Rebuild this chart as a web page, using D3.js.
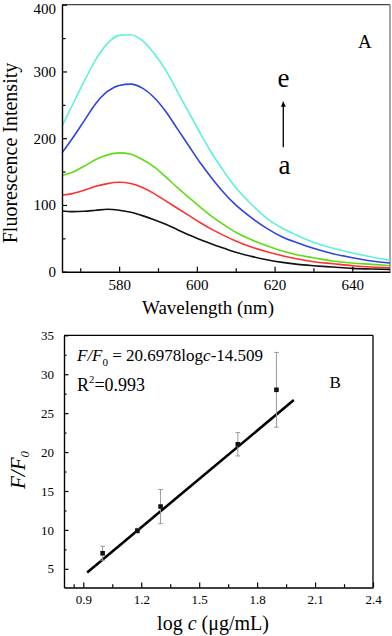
<!DOCTYPE html>
<html>
<head>
<meta charset="utf-8">
<title>Fluorescence</title>
<script src="https://cdn.jsdelivr.net/npm/d3@7"></script>
<style>
body{margin:0;background:#fff;}
svg{display:block;}
svg text{font-family:"Liberation Serif","Times New Roman",Times,"DejaVu Serif",serif;}
</style>
</head>
<body>
<script>
// ---- panel A : emission spectra a..e ----
var wavelength = [565.3, 568, 571, 574, 577, 580, 583, 586, 589, 592, 595, 598, 601, 604, 607, 610, 614, 618, 622, 626, 630, 635, 640, 645, 649.7];
var specA = [91, 90, 90.5, 92, 93.5, 92, 89, 84, 78, 71, 63, 55, 48, 41, 35, 29, 23, 18, 14, 11, 9, 7, 5, 4, 3.5];
var specB = [115, 117, 122, 128, 132, 134, 132, 126, 117, 106, 95, 84, 73, 63, 54, 46, 37, 30, 24, 19, 15, 12, 9, 7, 6];
var specC = [144, 149, 158, 168, 175, 178, 176, 168, 157, 142, 126, 111, 96, 82, 70, 59, 48, 39, 31, 25, 21, 16, 13, 11, 9];
var specD = [178, 200, 226, 252, 270, 279, 281, 275, 261, 240, 214, 188, 162, 139, 118, 100, 81, 65, 52, 43, 35, 27, 21, 16, 13];
var specE = [218, 250, 285, 318, 342, 354, 355, 346, 327, 302, 270, 238, 206, 176, 150, 126, 101, 80, 65, 54, 44, 35, 28, 22, 17];
var specColors = ["#111111", "#ff3030", "#5fdc12", "#3042e0", "#5ef0dc"];
var xTicksA = [580, 600, 620, 640];
var xMinorA = [570, 590, 610, 630];
var yTicksA = [0, 100, 200, 300, 400];
var yMinorA = [50, 150, 250, 350];

// ---- panel B : calibration ----
var logC = [1.0, 1.18, 1.30, 1.70, 1.90];
var ratio = [7.0, 9.9, 13.0, 21.0, 28.0];
var ratioErr = [0.9, 0.3, 2.2, 1.5, 4.8];
var fitSlope = 20.6978, fitIntercept = -14.509;
var fitRange = [0.92, 1.99];
var xTicksB = [0.9, 1.2, 1.5, 1.8, 2.1, 2.4];
var xMinorB = [0.85, 1.05, 1.35, 1.65, 1.95, 2.25];
var yTicksB = [5, 10, 15, 20, 25, 30, 35];
var yMinorB = [7.5, 12.5, 17.5, 22.5, 27.5, 32.5];

var svg = d3.select("body").append("svg")
	.attr("width", 392)
	.attr("height", 636);
svg.append("rect").attr("width", 392).attr("height", 636).attr("fill", "#fff");

var serif = "Liberation Serif, Times New Roman, serif";

function styleAxis(g, size) {
	g.attr("font-family", serif).attr("font-size", size);
	g.selectAll("text").attr("fill", "#000");
	g.selectAll("line").attr("stroke", "#000").attr("stroke-width", 1.2);
	g.select(".domain").attr("stroke", "#000").attr("stroke-width", 1.4);
}

// build a text, then rebuild it at a size that gives the wanted width
function fitText(build, fs, target) {
	var t = build(fs);
	var w = t.node().getBBox().width;
	if (w > 0 && Math.abs(w - target) > 3) {
		t.remove();
		t = build(fs * target / w);
	}
	return t;
}

// ================= panel A =================
var xA = d3.scaleLinear().domain([565.3, 649.7]).range([62, 390]);
var yA = d3.scaleLinear().domain([0, 400]).range([271.7, 4.7]);

// frame top / right
svg.append("line").attr("x1", 62).attr("x2", 390).attr("y1", 4.7).attr("y2", 4.7)
	.attr("stroke", "#444").attr("stroke-width", 1.3);
svg.append("line").attr("x1", 390).attr("x2", 390).attr("y1", 4.7).attr("y2", 271.7)
	.attr("stroke", "#777").attr("stroke-width", 1.3);

var lineA = d3.line()
	.x(function(d, i){ return xA(wavelength[i]); })
	.y(function(d){ return yA(d); })
	.curve(d3.curveMonotoneX);

var specs = [specA, specB, specC, specD, specE];
svg.append("g").selectAll("path")
	.data(specs)
	.enter().append("path")
	.attr("d", lineA)
	.attr("fill", "none")
	.attr("stroke", function(d, i){ return specColors[i]; })
	.attr("stroke-width", 1.6);

// axes
var gxA = svg.append("g").attr("transform", "translate(0,271.7)")
	.call(d3.axisBottom(xA).tickValues(xTicksA).tickSizeInner(-5).tickSizeOuter(0).tickPadding(8));
styleAxis(gxA, 15);
var gxAm = svg.append("g").attr("transform", "translate(0,271.7)")
	.call(d3.axisBottom(xA).tickValues(xMinorA).tickSize(-3.5).tickFormat(""));
gxAm.select(".domain").remove();
gxAm.selectAll("line").attr("stroke", "#000").attr("stroke-width", 1.2);

var gyA = svg.append("g").attr("transform", "translate(62,0)")
	.call(d3.axisLeft(yA).tickValues(yTicksA).tickSizeInner(-5).tickSizeOuter(0).tickPadding(6));
styleAxis(gyA, 15);
gyA.selectAll(".tick text").filter(function(d){ return d === 400; }).attr("dy", "0.6em");
var gyAm = svg.append("g").attr("transform", "translate(62,0)")
	.call(d3.axisLeft(yA).tickValues(yMinorA).tickSize(-3.5).tickFormat(""));
gyAm.select(".domain").remove();
gyAm.selectAll("line").attr("stroke", "#000").attr("stroke-width", 1.2);

// labels
svg.append("text")
	.attr("transform", "translate(17,153) rotate(-90)")
	.attr("text-anchor", "middle")
	.attr("font-size", 20)
	.text("Fluorescence Intensity");
svg.append("text")
	.attr("x", 208).attr("y", 314)
	.attr("text-anchor", "middle")
	.attr("font-size", 19)
	.text("Wavelength (nm)");
svg.append("text").attr("x", 358).attr("y", 47.7).attr("font-size", 19).text("A");
svg.append("text").attr("x", 283.5).attr("y", 87).attr("text-anchor", "middle").attr("font-size", 27).text("e");
svg.append("text").attr("x", 284.5).attr("y", 174).attr("text-anchor", "middle").attr("font-size", 27).text("a");

// arrow a -> e
svg.append("defs").append("marker")
	.attr("id", "head")
	.attr("viewBox", "0 0 10 10")
	.attr("refX", 10).attr("refY", 5)
	.attr("markerWidth", 5).attr("markerHeight", 6)
	.attr("markerUnits", "userSpaceOnUse")
	.attr("orient", "auto")
	.append("path").attr("d", "M0,0 L10,5 L0,10 Z").attr("fill", "#000");
svg.append("line")
	.attr("x1", 283.3).attr("x2", 283.3)
	.attr("y1", 147.3).attr("y2", 101.7)
	.attr("stroke", "#000").attr("stroke-width", 1.3)
	.attr("marker-end", "url(#head)");

// ================= panel B =================
var xB = d3.scaleLinear().domain([0.8, 2.4]).range([64, 373]);
var yB = d3.scaleLinear().domain([2.6, 35]).range([587.5, 335.3]);

svg.append("line").attr("x1", 64).attr("x2", 373).attr("y1", 335.3).attr("y2", 335.3)
	.attr("stroke", "#000").attr("stroke-width", 1.3);
svg.append("line").attr("x1", 373).attr("x2", 373).attr("y1", 335.3).attr("y2", 587.5)
	.attr("stroke", "#000").attr("stroke-width", 1.3);

var gxB = svg.append("g").attr("transform", "translate(0,587.5)")
	.call(d3.axisBottom(xB).tickValues(xTicksB).tickSizeInner(-5).tickSizeOuter(0).tickPadding(7)
		.tickFormat(d3.format(".1f")));
styleAxis(gxB, 13);
var gxBm = svg.append("g").attr("transform", "translate(0,587.5)")
	.call(d3.axisBottom(xB).tickValues(xMinorB).tickSize(-3.3).tickFormat(""));
gxBm.select(".domain").remove();
gxBm.selectAll("line").attr("stroke", "#000").attr("stroke-width", 1.2);

var gyB = svg.append("g").attr("transform", "translate(64,0)")
	.call(d3.axisLeft(yB).tickValues(yTicksB).tickSizeInner(-4.5).tickSizeOuter(0).tickPadding(10));
styleAxis(gyB, 13);
var gyBm = svg.append("g").attr("transform", "translate(64,0)")
	.call(d3.axisLeft(yB).tickValues(yMinorB).tickSize(-2.5).tickFormat(""));
gyBm.select(".domain").remove();
gyBm.selectAll("line").attr("stroke", "#000").attr("stroke-width", 1.2);

// fit line
svg.append("path")
	.datum(fitRange)
	.attr("d", d3.line()
		.x(function(d){ return xB(d); })
		.y(function(d){ return yB(fitSlope * d + fitIntercept); }))
	.attr("fill", "none")
	.attr("stroke", "#000")
	.attr("stroke-width", 2.6);

// error bars
var eb = svg.append("g").selectAll("g")
	.data(logC)
	.enter().append("g")
	.attr("stroke", "#999")
	.attr("stroke-width", 1);
eb.append("line")
	.attr("x1", function(d){ return xB(d); })
	.attr("x2", function(d){ return xB(d); })
	.attr("y1", function(d, i){ return yB(ratio[i] + ratioErr[i]); })
	.attr("y2", function(d, i){ return yB(ratio[i] - ratioErr[i]); });
eb.append("line")
	.attr("x1", function(d){ return xB(d) - 2.3; })
	.attr("x2", function(d){ return xB(d) + 2.3; })
	.attr("y1", function(d, i){ return yB(ratio[i] + ratioErr[i]); })
	.attr("y2", function(d, i){ return yB(ratio[i] + ratioErr[i]); });
eb.append("line")
	.attr("x1", function(d){ return xB(d) - 2.3; })
	.attr("x2", function(d){ return xB(d) + 2.3; })
	.attr("y1", function(d, i){ return yB(ratio[i] - ratioErr[i]); })
	.attr("y2", function(d, i){ return yB(ratio[i] - ratioErr[i]); });

// points
svg.append("g").selectAll("rect")
	.data(logC)
	.enter().append("rect")
	.attr("x", function(d){ return xB(d) - 2.3; })
	.attr("y", function(d, i){ return yB(ratio[i]) - 2.3; })
	.attr("width", 4.6)
	.attr("height", 4.6)
	.attr("fill", "#111");

// equation, R^2
fitText(function(fs){
	var t = svg.append("text").attr("x", 77).attr("y", 361).attr("font-size", fs);
	t.append("tspan").attr("font-style", "italic").text("F/F");
	t.append("tspan").attr("font-size", fs * 0.65).attr("dy", fs * 0.3).text("0");
	t.append("tspan").attr("dy", -fs * 0.3).text(" = 20.6978log");
	t.append("tspan").attr("font-style", "italic").text("c");
	t.append("tspan").text("-14.509");
	return t;
}, 17, 187);

fitText(function(fs){
	var t = svg.append("text").attr("x", 77).attr("y", 390.7).attr("font-size", fs);
	t.append("tspan").text("R");
	t.append("tspan").attr("font-size", fs * 0.6).attr("dy", -fs * 0.45).text("2");
	t.append("tspan").attr("dy", fs * 0.45).text("=0.993");
	return t;
}, 17, 68);

svg.append("text").attr("x", 329.5).attr("y", 387.7).attr("font-size", 17).text("B");

// axis titles
var yl = svg.append("text")
	.attr("transform", "translate(25,470) rotate(-90)")
	.attr("text-anchor", "middle")
	.attr("font-size", 21)
	.attr("font-style", "italic");
yl.append("tspan").text("F/F");
yl.append("tspan").attr("font-size", 13).attr("dy", 4).text("0");

var xl = svg.append("text")
	.attr("x", 213).attr("y", 630)
	.attr("text-anchor", "middle")
	.attr("font-size", 20);
xl.append("tspan").text("log ");
xl.append("tspan").attr("font-style", "italic").text("c");
xl.append("tspan").text(" (\u03bcg/mL)");
</script>
</body>
</html>
